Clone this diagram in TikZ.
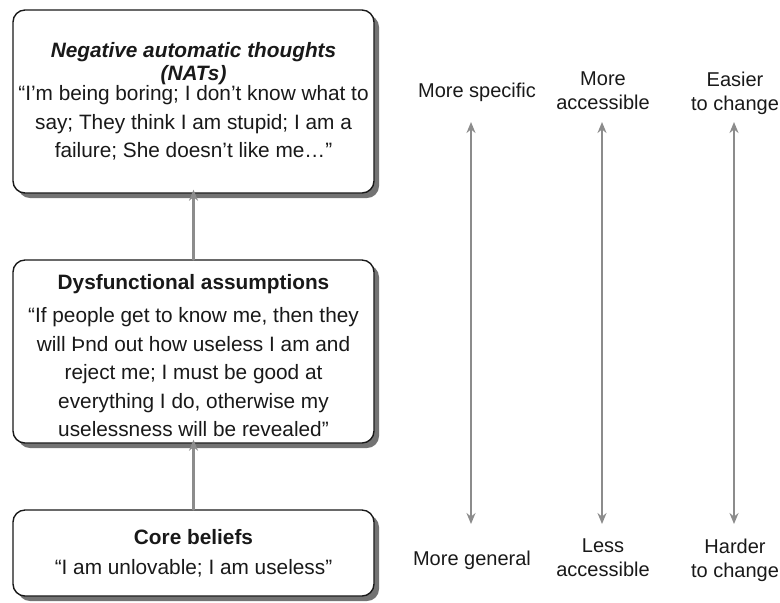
\documentclass[tikz,border=0pt]{standalone}
\usepackage{fontspec}
\setmainfont{Liberation Sans}
\usetikzlibrary{arrows.meta,shadows}

\begin{document}
\begin{tikzpicture}[
	x=0.5pt,
	y=-0.5pt,
	>={Stealth[length=5.5pt,width=4.5pt]},
	line cap=round,
	line join=round,
	level/.style={draw=black!90, line width=0.7pt, fill=white,
		rounded corners=6pt, minimum width=180.5pt, inner sep=0pt,
		align=center, text=black!90,
		font=\fontsize{10.4}{14.3}\selectfont,
		drop shadow={shadow xshift=2.5pt, shadow yshift=-2.5pt, fill=black!55, opacity=1}},
	link/.style={->, draw=black!45, line width=1.4pt},
	span/.style={<->, draw=black!45, line width=1.4pt},
	pole/.style={align=center, inner sep=0pt, text=black!90,
		font=\fontsize{10}{12}\selectfont}
	]
	\useasboundingbox (0,0) rectangle (780,602);
	% levels of cognition
	\node[level, minimum height=91.5pt] (nats) at (193.5,101.5)
		{\textbf{\textit{Negative automatic thoughts}}\\[-2.8pt]
		 \textbf{\textit{(NATs)}}\\[-4.5pt]
		 “I’m being boring; I don’t know what to\\
		 say; They think I am stupid; I am a\\
		 failure; She doesn’t like me…”};
	\node[level, minimum height=91.5pt] (assumptions) at (193.5,351.5)
		{\rule{0pt}{12pt}\textbf{Dysfunctional assumptions}\\[2pt]
		 “If people get to know me, then they\\
		 will Þnd out how useless I am and\\
		 reject me; I must be good at\\
		 everything I do, otherwise my\\
		 uselessness will be revealed”};
	\node[level, minimum height=43pt] (beliefs) at (193.5,553)
		{\textbf{Core beliefs}\\[0.5pt]
		 “I am unlovable; I am useless”};
	\draw[link, shorten >=-2pt] (assumptions.north) -- (nats.south);
	\draw[link, shorten >=-2pt] (beliefs.north) -- (assumptions.south);
	% dimensions on the right
	\node[pole] (specific) at (477,92) {More specific};
	\node[pole] (accessible) at (603,91) {More\\accessible};
	\node[pole] (easier) at (735,93) {Easier\\to change};
	\node[pole] (general) at (472,560) {More general};
	\node[pole] (less) at (603,558) {Less\\accessible};
	\node[pole] (harder) at (735,560) {Harder\\to change};
	\begin{scope}
		\foreach \x/\n in {471/specific,602/accessible,734/easier}{
			\coordinate (\n top) at (\x,122);
			\coordinate (\n bottom) at (\x,524);
			\draw[span] (\n top) -- (\n bottom);
		}
	\end{scope}
\end{tikzpicture}
\end{document}
